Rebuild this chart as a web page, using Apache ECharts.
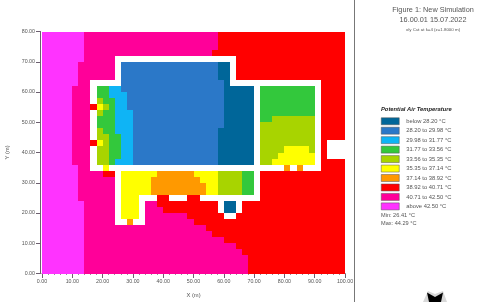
<!DOCTYPE html>
<html>
<head>
<meta charset="utf-8">
<style>html,body{margin:0;padding:0;background:#fff}#c{width:480px;height:302px}</style>
<script src="https://cdn.jsdelivr.net/npm/echarts@6/dist/echarts.min.js"></script>
</head>
<body>
<div id="c"></div>
<script>
const titleLines = ["Figure 1: New Simulation", "16.00.01 15.07.2022"];
const subtitle = "x/y Cut at k=4 (z=1.8000 m)";
const legendTitle = "Potential Air Temperature";
const bandLabels = ["below 28.20 °C","28.20 to 29.98 °C","29.98 to 31.77 °C","31.77 to 33.56 °C","33.56 to 35.35 °C","35.35 to 37.14 °C","37.14 to 38.92 °C","38.92 to 40.71 °C","40.71 to 42.50 °C","above 42.50 °C"];
const bandColors = ["#006699","#2b78c8","#0fb4f5","#33c83c","#a8d400","#ffff00","#ff9900","#ff0000","#ff0099","#ff33ff"];
const minText = "Min: 26.41 °C";
const maxText = "Max: 44.29 °C";
const cellMetres = 2;
const xMax = 100;
const yMax = 80;
// one row per 2 m of Y from the top; digit = band index, "." = no value (white); spaces only group columns by ten
const cellRows = [
"9999999888 8888888888 8888888887 7777777777 7777777777",
"9999999888 8888888888 8888888887 7777777777 7777777777",
"9999999888 8888888888 8888888887 7777777777 7777777777",
"9999999888 8888888888 8888888877 7777777777 7777777777",
"9999999888 88........ .......... ..77777777 7777777777",
"9999998888 88.1111111 1111111110 0.77777777 7777777777",
"9999998888 88.1111111 1111111110 0.77777777 7777777777",
"9999998888 88.1111111 1111111110 0.77777777 7777777777",
"99999988.. ...1111111 1111111111 0......... ......7777",
"99999888.3 3221111111 1111111111 00000.3333 33333.7777",
"99999888.3 3222111111 1111111111 00000.3333 33333.7777",
"99999888.4 3322111111 1111111111 00000.3333 33333.7777",
"9999988875 4322111111 1111111111 00000.3333 33333.7777",
"99999888.4 3322211111 1111111111 00000.3333 33333.7777",
"99999888.3 3322211111 1111111111 00000.3344 44444.7777",
"99999888.3 3322211111 1111111111 00000.4444 44444.7777",
"99999888.4 3322211111 1111111110 00000.4444 44444.7777",
"99999888.4 4332211111 1111111110 00000.4444 44444.7777",
"9999988875 4332211111 1111111110 00000.4444 44444.7...",
"99999888.4 4332211111 1111111110 00000.4444 55554.7...",
"99999888.4 4332211111 1111111110 00000.4445 55555.7...",
"99999888.4 4322211111 1111111110 00000.4455 55555.7777",
"99999988.. 5......... .......... .......... 6.6...7777",
"9999998888 77.5555556 6666655554 44433.7777 7777777777",
"9999998888 88.5555566 6666665554 44433.7777 7777777777",
"9999998888 88.5555566 6666666554 44433.7777 7777777777",
"9999998888 88.5555566 6666666554 44433.7777 7777777777",
"9999998888 88.555...7 7...77.... ......7777 7777777777",
"9999999888 88.555.887 777777777. 00.7777777 7777777777",
"9999999888 88.555.888 777777777. 00.7777777 7777777777",
"9999999888 88.555.888 8888777777 ..77777777 7777777777",
"9999999888 88..6..888 8888877777 7777777777 7777777777",
"9999999888 8888888888 8888888777 7777777777 7777777777",
"9999999888 8888888888 8888888877 7777777777 7777777777",
"9999999888 8888888888 8888888888 7777777777 7777777777",
"9999999888 8888888888 8888888888 8877777777 7777777777",
"9999999888 8888888888 8888888888 8887777777 7777777777",
"9999999888 8888888888 8888888888 8888777777 7777777777",
"9999999888 8888888888 8888888888 8888777777 7777777777",
"9999999888 8888888888 8888888888 8888777777 7777777777"
];

const bandCells = bandLabels.map(() => []);
cellRows.forEach((row, r) => {
  row.replace(/ /g, "").split("").forEach((ch, c) => {
    if (ch !== ".") bandCells[+ch].push([c * cellMetres, yMax - r * cellMetres]);
  });
});

function renderCell(params, api) {
  const p0 = api.coord([api.value(0), api.value(1)]);
  const p1 = api.coord([api.value(0) + cellMetres, api.value(1) - cellMetres]);
  const x0 = Math.round(p0[0]), y0 = Math.round(p0[1]), x1 = Math.round(p1[0]), y1 = Math.round(p1[1]);
  return {
    type: "rect",
    shape: { x: x0, y: y0, width: x1 - x0, height: y1 - y0 },
    style: { fill: api.visual("color") },
    silent: true
  };
}

const FONT = "Liberation Sans";
const txt = "#555";
const axisColor = "#6d6070";
const plain = (size, color) => ({ fontFamily: FONT, fontSize: size, fontWeight: "normal", color });
const chart = echarts.init(document.getElementById("c"), null, { renderer: "canvas" });
chart.setOption({
  animation: false,
  backgroundColor: "#fff",
  title: [
    { text: titleLines[0], left: 433, top: 6, padding: 0, textAlign: "center", textStyle: plain(7.3, "#555") },
    { text: titleLines[1], left: 433, top: 16, padding: 0, textAlign: "center", textStyle: plain(7.3, "#555") },
    { text: subtitle, left: 433, top: 27.5, padding: 0, textAlign: "center", textStyle: plain(4.4, "#555") },
    { text: legendTitle, left: 381, top: 106, padding: 0, textStyle: { fontFamily: FONT, fontSize: 5.8, fontWeight: "bold", fontStyle: "italic", color: "#222" } },
    { text: minText, left: 381, top: 212.7, padding: 0, textStyle: plain(5.6, txt) },
    { text: maxText, left: 381, top: 220.4, padding: 0, textStyle: plain(5.6, txt) }
  ],
  legend: {
    orient: "vertical", left: 381, top: 117.5, padding: 0, selectedMode: false,
    icon: "rect", itemWidth: 18, itemHeight: 7, itemGap: 1.96,
    data: bandLabels,
    itemStyle: { borderColor: "#555", borderWidth: 0.5 },
    textStyle: { fontFamily: FONT, fontSize: 5.8, color: txt, padding: [0, 0, 0, 2], height: 7, lineHeight: 7 }
  },
  grid: { left: 42, top: 31.5, width: 303, height: 242, show: false, containLabel: false, outerBoundsMode: "none" },
  xAxis: [{
    type: "value", min: 0, max: xMax, interval: 10, position: "bottom",
    axisLine: { show: true, onZero: false, lineStyle: { color: axisColor, width: 1 } },
    axisTick: { show: true, length: 4.5, lineStyle: { color: axisColor, width: 1 } },
    minorTick: { show: true, splitNumber: 5, length: 1.5, lineStyle: { color: axisColor, width: 0.7 } },
    splitLine: { show: false },
    axisLabel: { fontFamily: FONT, fontSize: 5.3, color: txt, margin: 5.5, formatter: v => v.toFixed(2), hideOverlap: false, showMinLabel: true, showMaxLabel: true },
    name: "X (m)", nameLocation: "middle", nameGap: 19, nameTextStyle: { fontFamily: FONT, fontSize: 5.8, color: txt }
  }],
  yAxis: [{
    type: "value", min: 0, max: yMax, interval: 10, offset: 1.5,
    axisLine: { show: true, onZero: false, lineStyle: { color: axisColor, width: 1 } },
    axisTick: { show: true, length: 4.5, lineStyle: { color: axisColor, width: 1 } },
    splitLine: { show: false },
    axisLabel: { fontFamily: FONT, fontSize: 5.3, color: txt, margin: 5.5, formatter: v => v.toFixed(2), showMinLabel: true, showMaxLabel: true },
    name: "Y (m)", nameLocation: "middle", nameGap: 30, nameRotate: 90, nameTextStyle: { fontFamily: FONT, fontSize: 5.8, color: txt }
  }],
  series: bandLabels.map((name, i) => ({
    name, type: "custom", coordinateSystem: "cartesian2d", clip: false, silent: true,
    itemStyle: { color: bandColors[i] },
    encode: { x: 0, y: 1 },
    data: bandCells[i],
    renderItem: renderCell
  })),
  graphic: [
    { type: "line", silent: true, shape: { x1: 354.5, y1: 0, x2: 354.5, y2: 302 }, style: { stroke: "#777", lineWidth: 1 } },
    { type: "polygon", silent: true, shape: { points: [[423,302],[428,291],[435,294],[443,291],[447,302]] }, style: { fill: "#d8d8d8" } },
    { type: "polygon", silent: true, shape: { points: [[427,292.5],[435,297],[443,292.5],[441,302],[429,302]] }, style: { fill: "#000" } }
  ]
});
</script>
</body>
</html>
